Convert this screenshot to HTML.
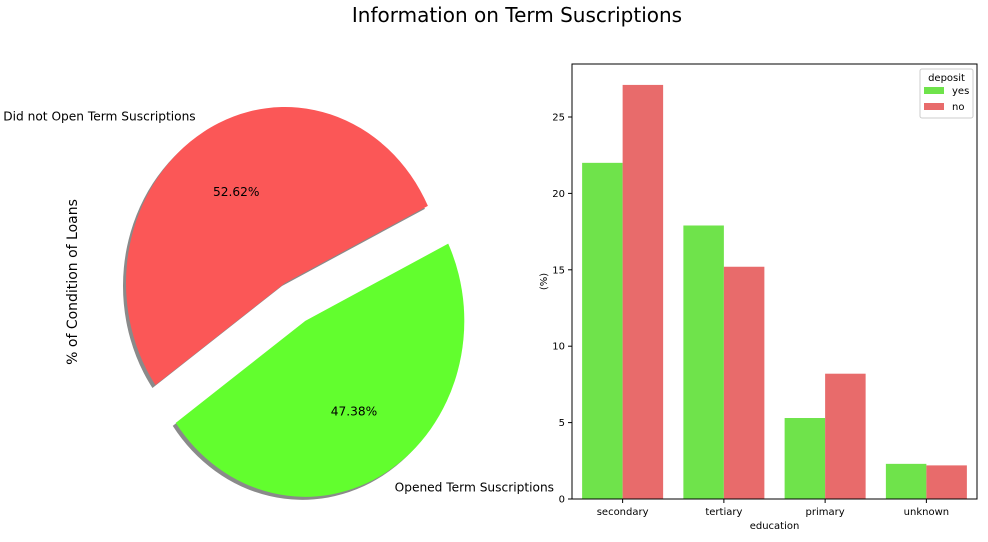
<!DOCTYPE html>
<html><head><meta charset="utf-8"><style>
body{margin:0;background:#fff;font-family:"Liberation Sans","DejaVu Sans",sans-serif}
svg text{font-family:"DejaVu Sans","Liberation Sans",sans-serif}
</style></head><body>
<svg id="c" width="988" height="537" xmlns="http://www.w3.org/2000/svg">
<text x="517" y="22" text-anchor="middle" font-size="20">Information on Term Suscriptions</text>
<text transform="translate(77,282) rotate(-90)" text-anchor="middle" font-size="14">% of Condition of Loans</text>
<g id="pie"></g>
<g id="bars"></g>
</svg>
<script>
const pieLabels=["Opened Term Suscriptions","Did not Open Term Suscriptions"];
const pieValues=[47.38,52.62];
const categories=["secondary","tertiary","primary","unknown"];
const yesValues=[22.0,17.9,5.3,2.3];
const noValues=[27.1,15.2,8.2,2.2];
const yTicks=[0,5,10,15,20,25];

const NS="http://www.w3.org/2000/svg";
function mk(t,a,p){const e=document.createElementNS(NS,t);for(const k in a)e.setAttribute(k,a[k]);p.appendChild(e);return e;}

// Pie (slightly elliptical as in reference)
const pie=document.getElementById('pie');
const cx=285,cy=283,RX=159,RY=176,start=26;
const pieColors=["#62fe2e","#fb5757"];
const explode=[0.25,0];
const total=pieValues.reduce((a,b)=>a+b,0);
function pt(x,y,f,deg){const a=deg*Math.PI/180;return [x+f*RX*Math.cos(a),y-f*RY*Math.sin(a)];}
const slices=[];
pieValues.forEach((v,i)=>{
  const sw=v/total*360;
  let s,e;
  if(i===0){s=start-sw;e=start;}else{s=start;e=start+sw;}
  const mid=(s+e)/2;
  const [ox,oy]=pt(0,0,explode[i],mid);
  slices.push({s,e,mid,ox,oy,i,v});
});
function arcPath(x,y,s,e){const p1=pt(x,y,1,s),p2=pt(x,y,1,e);const large=(e-s)>180?1:0;
  return `M${x},${y} L${p1[0]},${p1[1]} A${RX},${RY} 0 ${large} 0 ${p2[0]},${p2[1]} Z`;}
slices.forEach(sl=>{
  const sh=mk('path',{d:arcPath(cx+sl.ox-3,cy+sl.oy+3,sl.s,sl.e),fill:'#8a8a8a'},pie);
  
  
});
slices.forEach(sl=>{
  const p=mk('path',{d:arcPath(cx+sl.ox,cy+sl.oy,sl.s,sl.e),fill:pieColors[sl.i]},pie);
  
  
  const [px,py]=pt(cx+sl.ox,cy+sl.oy,0.6,sl.mid);
  const t=mk('text',{x:px,y:py+4,'text-anchor':'middle','font-size':'12.2'},pie);t.textContent=sl.v.toFixed(2)+'%';
  
  
  const [lx,ly]=pt(cx+sl.ox,cy+sl.oy,1.1,sl.mid);
  const l=mk('text',{x:lx,y:ly+4,'text-anchor':Math.cos(sl.mid*Math.PI/180)>0?'start':'end','font-size':'12.2'},pie);l.textContent=pieLabels[sl.i];
  
  
});

// Bars
const g=document.getElementById('bars');
const L=572,Rr=977,T=64,B=499;
const yScale=v=>B-v*(B-117)/25;
const cw=(Rr-L)/categories.length;
const xCenter=i=>L+cw*(i+0.5);
const bw=cw*0.4;
categories.forEach((c,i)=>{
  const y1=yScale(yesValues[i]),y2=yScale(noValues[i]);
  const r1=mk('rect',{x:xCenter(i)-bw,y:y1,width:bw,height:B-y1,fill:'#6fe34b'},g);
  
  
  const r2=mk('rect',{x:xCenter(i),y:y2,width:bw,height:B-y2,fill:'#e86b6b'},g);
  
  
  mk('line',{x1:xCenter(i),x2:xCenter(i),y1:B,y2:B+4,stroke:'#000'},g);
  const t=mk('text',{x:xCenter(i),y:B+16,'text-anchor':'middle','font-size':'10'},g);t.textContent=c;
  
  
});
yTicks.forEach(v=>{
  const y=yScale(v);
  mk('line',{x1:L-4,x2:L,y1:y,y2:y,stroke:'#000'},g);
  const t=mk('text',{x:L-7,y:y+3.5,'text-anchor':'end','font-size':'10'},g);t.textContent=v;
  
  
});
const fr=mk('rect',{x:L,y:T,width:Rr-L,height:B-T,fill:'none',stroke:'#000','stroke-width':'1'},g);


const xl=mk('text',{x:(L+Rr)/2,y:529,'text-anchor':'middle','font-size':'10'},g);xl.textContent='education';


const yl=mk('text',{transform:`translate(547,${(T+B)/2}) rotate(-90)`,'text-anchor':'middle','font-size':'10'},g);yl.textContent='(%)';


const lg=mk('g',{},g);


mk('rect',{x:920,y:69,width:53,height:49,fill:'#fff',stroke:'#ccc',rx:2},lg);
const lt=mk('text',{x:946.5,y:81,'text-anchor':'middle','font-size':'10'},lg);lt.textContent='deposit';
[['yes','#6fe34b',94],['no','#e86b6b',110]].forEach(([n,c,y])=>{
  const s=mk('rect',{x:924,y:y-7,width:20,height:7,fill:c},lg);
  
  
  const t=mk('text',{x:952,y:y,'font-size':'10'},lg);t.textContent=n;
  
  
});
</script>
</body></html>
